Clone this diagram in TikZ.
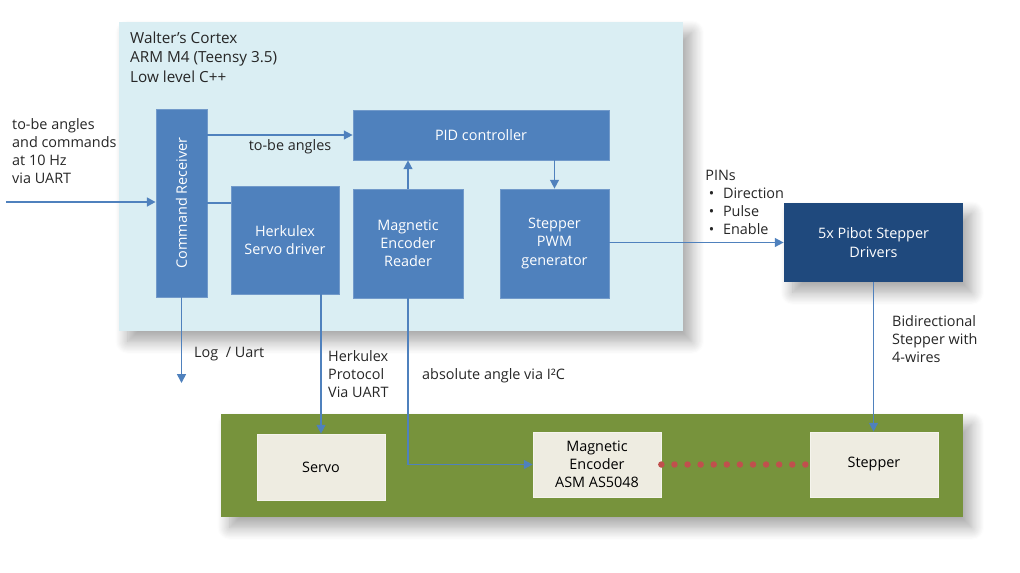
\documentclass[tikz,border=0pt]{standalone}
\usepackage{fontspec}
\setmainfont{Open Sans}
\usepackage{tikz}
\usetikzlibrary{arrows.meta,fit,shadows.blur}
\definecolor{panelblue}{HTML}{DAEEF3}
\definecolor{boxblue}{HTML}{4F81BD}
\definecolor{darkblue}{HTML}{1F497D}
\definecolor{boardgreen}{HTML}{77933C}
\definecolor{partgray}{HTML}{EEECE1}
\definecolor{dotred}{HTML}{C0504D}
\definecolor{txt}{HTML}{262626}
\begin{document}
\begin{tikzpicture}[x=0.02cm,y=-0.02cm,
    every node/.style={font=\fontsize{8.2}{10.4}\selectfont,text=txt},
    panel/.style={inner sep=0pt,draw=none,blur shadow={shadow xshift=5pt,shadow yshift=-6pt,shadow blur radius=7pt,shadow blur steps=12,shadow opacity=35}},
    blk/.style={inner sep=0pt,fill=boxblue,draw=boxblue!80!white},
    part/.style={inner sep=0pt,fill=partgray,draw=partgray!60!white},
    wlbl/.style={text=white,align=center,inner sep=0pt},
    blbl/.style={text=black,align=center,inner sep=0pt},
    arr/.style={draw=boxblue,line width=0.9pt,-{Triangle[length=5pt,width=5pt]}},
    wire/.style={draw=boxblue,line width=0.9pt}]
\useasboundingbox (0,0) rectangle (1020,572);

% Cortex board
\node[panel,fill=panelblue,fit={(119,22)(683,331)}] (cortex) {};
\node[anchor=north west,align=left,font=\fontsize{8.7}{10.9}\selectfont] (title) at (124,26) {Walter’s Cortex\\ARM M4 (Teensy 3.5)\\Low level C++};

\node[blk,fit={(156,109)(207,297)},label={[wlbl,rotate=90]center:Command Receiver}] (cmd) {};
\node[blk,fit={(353,110)(609,160)},label={[wlbl]center:PID controller}] (pid) {};
\node[blk,fit={(231,186)(339,294)},label={[wlbl]center:Herkulex\\Servo driver}] (herk) {};
\node[blk,fit={(353,189)(463,298)},label={[wlbl]center:Magnetic\\Encoder\\Reader}] (mer) {};
\node[blk,fit={(500,189)(609,298)},label={[wlbl]center:Stepper\\PWM\\generator}] (pwm) {};

\node[panel,fill=darkblue,fit={(784,203)(963,282)},label={[wlbl]center:5x Pibot Stepper\\Drivers}] (drv) {};

% hardware board
\node[panel,fill=boardgreen,fit={(221,414)(963,517)}] (board) {};
\node[part,fit={(257,434)(385,500)},label={[blbl]center:Servo}] (servo) {};
\node[part,fit={(533,432)(661,497)},label={[blbl]center:Magnetic\\Encoder\\ASM AS5048}] (enc) {};
\node[part,fit={(810,432)(938,497)},label={[blbl]center:Stepper}] (stp) {};

% connections
\coordinate (in) at (6,202);
\coordinate (log) at (181.5,383);
\draw[arr,line width=1.5pt] (in) -- (in -| cmd.west);
\draw[arr] (cmd.east |- pid.west) -- (pid.west);
\draw[wire] (cmd.east |- 0,203) -- (herk.west |- 0,203);
\draw[arr] (mer.north) -- (pid.south -| mer.north);
\draw[arr] (pid.south -| pwm.north) -- (pwm.north);
\draw[arr] (pwm.east |- drv.west) -- (drv.west);
\draw[arr] (drv.south) -- (drv.south |- stp.north);
\draw[arr] (cmd.south) -- (log);
\draw[arr] (servo.north |- herk.south) -- (servo.north);
\draw[arr] (mer.south) -- (mer.south |- enc.west) -- (enc.west);
\draw[dotred,line width=3.7pt,line cap=round,dash pattern=on 0pt off 7.45pt] (enc.east) -- (stp.west);

% labels
\node[anchor=north west,align=left] (inlbl) at (6,112) {to-be angles\\and commands\\at 10 Hz\\via UART};
\node (anglbl) at (290,147) {to-be angles};
\node[anchor=north west,align=left,inner sep=0pt] (pins) at (705,167) {%
  \begin{tabular}{@{}l@{\hspace{5pt}}l@{}}\multicolumn{2}{@{}l}{PINs}\\ \hspace{2pt}•&Direction\\ \hspace{2pt}•&Pulse\\ \hspace{2pt}•&Enable\end{tabular}};
\node[anchor=north west,align=left] (bidir) at (886,309) {Bidirectional\\Stepper with\\4-wires};
\node[anchor=west] (loglbl) at (188,354) {Log\ \ / Uart};
\node[anchor=north west,align=left] (herklbl) at (322,344) {Herkulex\\Protocol\\Via UART};
\node[anchor=west] (i2clbl) at (416,376) {absolute angle via I²C};
\end{tikzpicture}
\end{document}
